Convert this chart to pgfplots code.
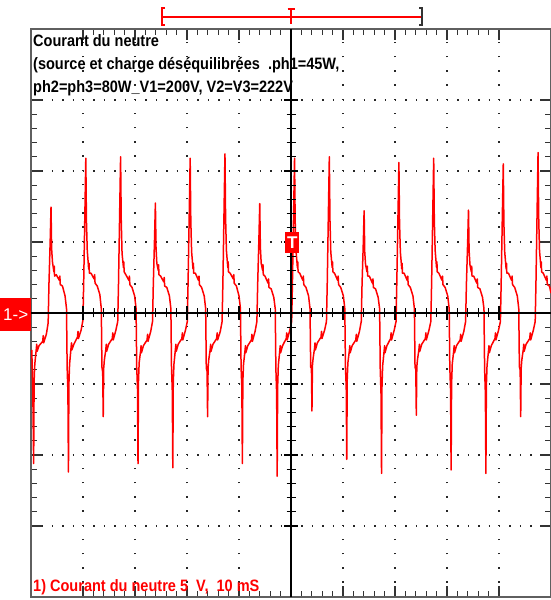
\documentclass[border=0pt]{standalone}
\usepackage{pgfplots}
\pgfplotsset{compat=1.18}
\usepackage{fontspec}
\setmainfont{Liberation Sans}
\definecolor{scopered}{RGB}{255,0,0}
\definecolor{bordergray}{RGB}{95,95,95}
\newcommand{\tl}[1]{\scalebox{0.88}[1]{\fontsize{16.5}{16.5}\selectfont\bfseries #1}}
\begin{document}
\begin{tikzpicture}
\begin{axis}[
  at={(0,0)}, anchor=south west,
  width=520pt, height=568pt, scale only axis,
  xmin=-50, xmax=50, ymin=-20, ymax=20,
  xtick={-40,-30,...,40}, ytick={-15,-10,...,15},
  minor x tick num=4, minor y tick num=4,
  xticklabels={}, yticklabels={},
  tick align=inside,
  major tick length=11pt, minor tick length=6pt,
  tick style={black!80, line width=1.2pt},
  axis line style={bordergray, line width=1.8pt},
  grid=major,
  x grid style={black!85, line width=1.3pt, dash pattern=on 1.3pt off 12.9pt},
  y grid style={black!85, line width=1.3pt, dash pattern=on 1.3pt off 9.1pt},
]
\addplot[scopered, line width=1.5pt, line join=round] coordinates {
(-49.85,-2.6) (-49.65,-5.5)
(-49.49,-10.6) (-49.40,-4.77) (-49.27,-3.6) (-49.00,-2.6) (-48.90,-2.2) (-48.83,-2.7) (-48.45,-2.3) (-47.75,-2.0) (-47.65,-1.6) (-47.57,-2.1) (-47.05,-1.5) (-46.70,-0.7) (-46.55,2.0) (-46.30,5.2) (-46.15,7.46) (-46.03,4.5) (-45.87,3.6) (-45.60,2.9) (-45.53,3.3) (-45.47,2.6) (-45.15,2.7) (-44.55,2.3) (-44.45,2.6) (-44.37,2.0) (-43.95,1.9) (-43.45,1.2) (-43.17,0.3) (-43.05,-3.8) (-42.90,-5.6)
(-42.80,-11.2) (-42.71,-5.0) (-42.58,-3.6) (-42.31,-2.5) (-42.21,-2.1) (-42.14,-2.6) (-41.76,-2.2) (-41.06,-1.7) (-40.96,-1.3) (-40.88,-1.8) (-40.36,-1.2) (-40.01,-0.5) (-39.86,2.3) (-39.61,7.6) (-39.46,10.9) (-39.34,6.5) (-39.18,4.4) (-38.91,3.1) (-38.84,3.5) (-38.78,2.8) (-38.46,2.8) (-37.86,2.4) (-37.76,2.7) (-37.68,2.1) (-37.26,1.9) (-36.76,1.3) (-36.48,0.3) (-36.36,-3.8) (-36.21,-4.2)
(-36.11,-7.3) (-36.02,-3.9) (-35.89,-3.3) (-35.62,-2.6) (-35.52,-2.2) (-35.45,-2.7) (-35.07,-2.2) (-34.37,-1.8) (-34.27,-1.4) (-34.19,-1.9) (-33.67,-1.2) (-33.32,-0.6) (-33.17,2.1) (-32.92,7.7) (-32.77,11.0) (-32.65,6.6) (-32.49,4.2) (-32.22,3.2) (-32.15,3.6) (-32.09,2.9) (-31.77,2.7) (-31.17,2.3) (-31.07,2.6) (-30.99,2.0) (-30.57,1.8) (-30.07,1.2) (-29.79,0.3) (-29.67,-3.8) (-29.52,-5.3)
(-29.42,-10.6) (-29.33,-4.8) (-29.20,-3.5) (-28.93,-2.7) (-28.83,-2.3) (-28.76,-2.8) (-28.38,-2.3) (-27.68,-1.9) (-27.58,-1.5) (-27.50,-2.0) (-26.98,-1.3) (-26.63,-0.6) (-26.48,2.0) (-26.23,5.4) (-26.08,7.74) (-25.96,4.6) (-25.80,3.5) (-25.53,3.0) (-25.46,3.4) (-25.40,2.7) (-25.08,2.6) (-24.48,2.2) (-24.38,2.5) (-24.30,1.9) (-23.88,1.8) (-23.38,1.2) (-23.10,0.3) (-22.98,-3.8) (-22.83,-5.5)
(-22.73,-10.9) (-22.64,-4.9) (-22.51,-3.6) (-22.24,-2.6) (-22.14,-2.2) (-22.07,-2.7) (-21.69,-2.2) (-20.99,-1.8) (-20.89,-1.4) (-20.81,-1.9) (-20.29,-1.2) (-19.94,-0.6) (-19.79,2.2) (-19.54,7.6) (-19.39,10.9) (-19.27,6.5) (-19.11,4.3) (-18.84,3.1) (-18.77,3.5) (-18.71,2.8) (-18.39,2.8) (-17.79,2.3) (-17.69,2.6) (-17.61,2.0) (-17.19,1.8) (-16.69,1.2) (-16.41,0.3) (-16.29,-3.9) (-16.14,-4.1)
(-16.04,-7.3) (-15.95,-3.9) (-15.82,-3.3) (-15.55,-2.6) (-15.45,-2.2) (-15.38,-2.7) (-15.00,-2.2) (-14.30,-1.8) (-14.20,-1.4) (-14.12,-1.9) (-13.60,-1.3) (-13.25,-0.6) (-13.10,2.1) (-12.85,7.8) (-12.70,11.2) (-12.58,6.7) (-12.42,4.4) (-12.15,3.2) (-12.08,3.6) (-12.02,2.9) (-11.70,2.8) (-11.10,2.4) (-11.00,2.7) (-10.92,2.1) (-10.50,1.9) (-10.00,1.2) (-9.72,0.3) (-9.60,-3.8) (-9.45,-5.3)
(-9.35,-10.6) (-9.26,-4.8) (-9.13,-3.6) (-8.86,-2.7) (-8.76,-2.3) (-8.69,-2.8) (-8.31,-2.3) (-7.61,-1.9) (-7.51,-1.5) (-7.43,-2.0) (-6.91,-1.3) (-6.56,-0.6) (-6.41,2.0) (-6.16,5.4) (-6.01,7.7) (-5.89,4.6) (-5.73,3.5) (-5.46,3.0) (-5.39,3.4) (-5.33,2.7) (-5.01,2.6) (-4.41,2.1) (-4.31,2.4) (-4.23,1.8) (-3.81,1.7) (-3.31,1.1) (-3.03,0.3) (-2.91,-3.9) (-2.76,-5.7)
(-2.66,-11.5) (-2.57,-5.2) (-2.44,-3.7) (-2.17,-2.7) (-2.07,-2.3) (-2.00,-2.8) (-1.62,-2.3) (-0.92,-1.8) (-0.82,-1.4) (-0.74,-1.9) (-0.22,-1.2) (0.13,-0.6) (0.28,2.2) (0.53,7.6) (0.68,10.9) (0.80,6.5) (0.96,4.4) (1.23,3.2) (1.30,3.6) (1.36,2.9) (1.68,2.8) (2.28,2.3) (2.38,2.6) (2.46,2.0) (2.88,1.8) (3.38,1.2) (3.66,0.3) (3.78,-3.8) (3.93,-3.9)
(4.03,-6.9) (4.12,-3.7) (4.25,-3.2) (4.52,-2.5) (4.62,-2.1) (4.69,-2.6) (5.07,-2.1) (5.77,-1.7) (5.87,-1.3) (5.95,-1.8) (6.47,-1.2) (6.82,-0.6) (6.97,2.1) (7.22,7.7) (7.37,11.0) (7.49,6.6) (7.65,4.3) (7.92,3.2) (7.99,3.6) (8.05,2.9) (8.37,2.8) (8.97,2.3) (9.07,2.6) (9.15,2.0) (9.57,1.8) (10.07,1.2) (10.35,0.3) (10.47,-3.8) (10.62,-5.2)
(10.72,-10.3) (10.81,-4.7) (10.94,-3.5) (11.21,-2.7) (11.31,-2.3) (11.38,-2.8) (11.76,-2.3) (12.46,-1.9) (12.56,-1.5) (12.64,-2.0) (13.16,-1.3) (13.51,-0.6) (13.66,2.0) (13.91,5.0) (14.06,7.2) (14.18,4.3) (14.34,3.4) (14.61,2.9) (14.68,3.3) (14.74,2.6) (15.06,2.6) (15.66,2.1) (15.76,2.4) (15.84,1.8) (16.26,1.7) (16.76,1.1) (17.04,0.3) (17.16,-3.9) (17.31,-5.7)
(17.41,-11.3) (17.50,-5.1) (17.63,-3.7) (17.90,-2.7) (18.00,-2.3) (18.07,-2.8) (18.45,-2.3) (19.15,-1.8) (19.25,-1.4) (19.33,-1.9) (19.85,-1.2) (20.20,-0.6) (20.35,2.2) (20.60,7.4) (20.75,10.6) (20.87,6.4) (21.03,4.3) (21.30,3.1) (21.37,3.5) (21.43,2.8) (21.75,2.8) (22.35,2.3) (22.45,2.6) (22.53,2.0) (22.95,1.8) (23.45,1.2) (23.73,0.3) (23.85,-3.8) (24.00,-4.0)
(24.10,-7.2) (24.19,-3.8) (24.32,-3.3) (24.59,-2.6) (24.69,-2.2) (24.76,-2.7) (25.14,-2.2) (25.84,-1.8) (25.94,-1.4) (26.02,-1.9) (26.54,-1.2) (26.89,-0.6) (27.04,2.1) (27.29,7.6) (27.44,10.9) (27.56,6.5) (27.72,4.4) (27.99,3.2) (28.06,3.6) (28.12,2.9) (28.44,2.8) (29.04,2.3) (29.14,2.6) (29.22,2.0) (29.64,1.8) (30.14,1.2) (30.42,0.3) (30.54,-3.8) (30.69,-5.5)
(30.79,-11.05) (30.88,-5.0) (31.01,-3.6) (31.28,-2.7) (31.38,-2.3) (31.45,-2.8) (31.83,-2.3) (32.53,-1.9) (32.63,-1.5) (32.71,-2.0) (33.23,-1.3) (33.58,-0.6) (33.73,2.0) (33.98,5.1) (34.13,7.25) (34.25,4.4) (34.41,3.4) (34.68,2.9) (34.75,3.3) (34.81,2.6) (35.13,2.6) (35.73,2.1) (35.83,2.4) (35.91,1.8) (36.33,1.7) (36.83,1.1) (37.11,0.3) (37.23,-3.9) (37.38,-5.7)
(37.48,-11.3) (37.57,-5.1) (37.70,-3.7) (37.97,-2.7) (38.07,-2.3) (38.14,-2.8) (38.52,-2.3) (39.22,-1.8) (39.32,-1.4) (39.40,-1.9) (39.92,-1.2) (40.27,-0.6) (40.42,2.2) (40.67,7.4) (40.82,10.5) (40.94,6.3) (41.10,4.3) (41.37,3.1) (41.44,3.5) (41.50,2.8) (41.82,2.8) (42.42,2.3) (42.52,2.6) (42.60,2.0) (43.02,1.8) (43.52,1.2) (43.80,0.3) (43.92,-3.8) (44.07,-4.0)
(44.17,-7.3) (44.26,-3.9) (44.39,-3.3) (44.66,-2.6) (44.76,-2.2) (44.83,-2.7) (45.21,-2.2) (45.91,-1.8) (46.01,-1.4) (46.09,-1.9) (46.61,-1.2) (46.96,-0.6) (47.11,2.2) (47.36,7.9) (47.51,11.3) (47.63,6.8) (47.79,4.4) (48.06,3.2) (48.13,3.6) (48.19,2.9) (48.51,2.8) (49.11,2.3) (49.21,2.6) (49.29,2.0) (49.71,1.9) (50.00,1.4)
};
\end{axis}
\begin{axis}[
  at={(0,0)}, anchor=south west,
  width=520pt, height=568pt, scale only axis,
  xmin=-50, xmax=50, ymin=-20, ymax=20,
  axis lines=middle, axis line style={black, line width=1.6pt, -},
  xtick={-40,-30,...,40}, ytick={-15,-10,...,15},
  minor x tick num=4, minor y tick num=4,
  xticklabels={}, yticklabels={},
  tick align=center,
  major tick length=14pt, minor tick length=9pt,
  tick style={black, line width=1.2pt},
]
\end{axis}
% trigger bar
\draw[scopered, line width=1.3pt] (131pt,580pt) -- (391pt,580pt);
\draw[scopered, line width=1.3pt] (134pt,589pt) -- (131pt,589pt) -- (131pt,572pt) -- (134pt,572pt);
\draw[black!80, line width=1.3pt] (388pt,589pt) -- (391pt,589pt) -- (391pt,572pt) -- (388pt,572pt);
\draw[scopered, line width=1.3pt] (260pt,573pt) -- (260pt,588pt);
\draw[scopered, line width=1.3pt] (256.5pt,588pt) -- (263.5pt,588pt);
% titles
\node[anchor=base west, inner sep=0pt] at (2pt,550pt) {\tl{Courant du neutre}};
\node[anchor=base west, inner sep=0pt] at (2pt,527pt) {\tl{(source et charge déséquilibrées\ \ .ph1=45W,}};
\node[anchor=base west, inner sep=0pt] at (2pt,504pt) {\tl{ph2=ph3=80W\_V1=200V, V2=V3=222V}};
\node[anchor=base west, inner sep=0pt, text=scopered] at (2pt,6pt) {\tl{1) Courant du neutre 5\ \ V,\ \ 10 mS}};
% markers
\node[fill=scopered, text=white, minimum width=31pt, minimum height=33pt, inner sep=0pt, anchor=south west] at (-31pt,266pt) {\fontsize{17}{17}\selectfont 1->};
\node[fill=scopered, text=white, minimum width=14pt, minimum height=21pt, inner sep=0pt, anchor=south west] at (254pt,344pt) {\fontsize{17}{17}\selectfont\bfseries T};
\pgfresetboundingbox
\path[use as bounding box] (-31pt,-3pt) rectangle (520pt,597pt);
\end{tikzpicture}
\end{document}
